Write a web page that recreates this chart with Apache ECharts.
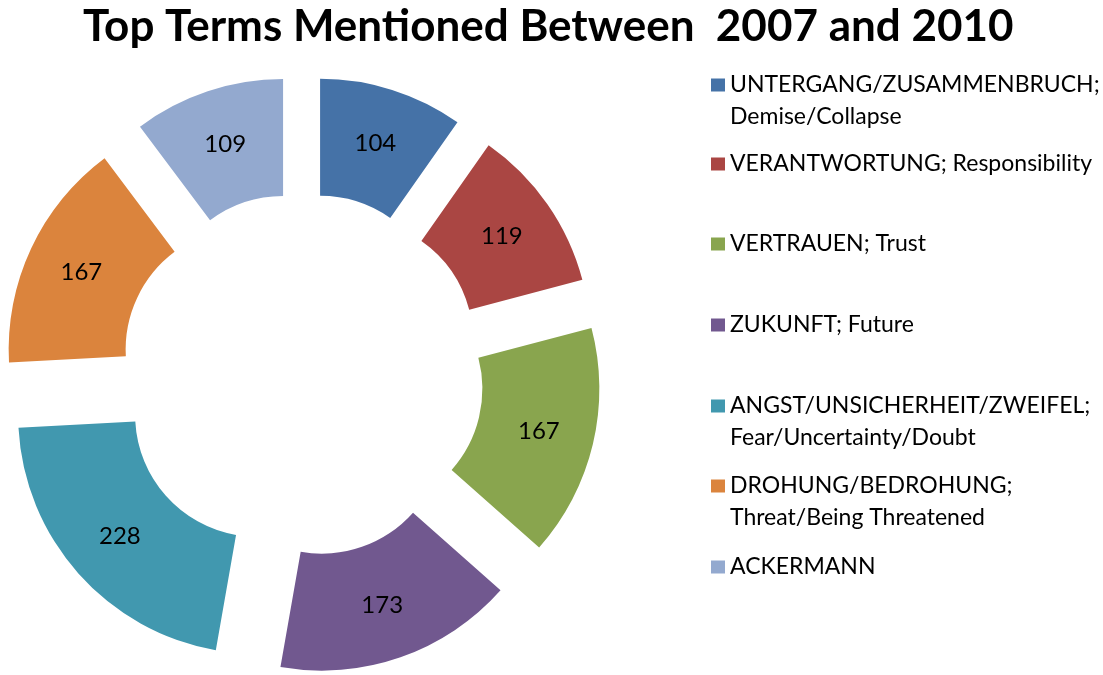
<!DOCTYPE html>
<html>
<head>
<meta charset="utf-8">
<script src="https://cdn.jsdelivr.net/npm/echarts@6/dist/echarts.min.js"></script>
<style>
    html, body { margin: 0; padding: 0; background: #fff; }
    #termsChart { width: 1103px; height: 675px; }
</style>
</head>
<body>
<div id="termsChart"></div>
<script>
var termNames = [
    'UNTERGANG/ZUSAMMENBRUCH;\nDemise/Collapse',
    'VERANTWORTUNG; Responsibility',
    'VERTRAUEN; Trust',
    'ZUKUNFT; Future',
    'ANGST/UNSICHERHEIT/ZWEIFEL;\nFear/Uncertainty/Doubt',
    'DROHUNG/BEDROHUNG;\nThreat/Being Threatened',
    'ACKERMANN'
];
var termCounts = [104, 119, 167, 173, 228, 167, 109];
var termColors = ['#4572A7', '#AA4643', '#89A54E', '#71588F', '#4198AF', '#DB843D', '#93A9CF'];

// one legend per entry so the boxes line up with the first text line
var legendCenters = [85, 164, 244, 325, 406, 486, 567];

function buildLegends() {
    var legends = [];
    termNames.forEach(function (name, i) {
        var twoLines = name.indexOf('\n') >= 0;
        legends.push({
            orient: 'vertical',
            left: 711,
            top: legendCenters[i] - (twoLines ? 48 : 16),
            padding: 0,
            itemWidth: 14,
            itemHeight: 13,
            icon: 'rect',
            selectedMode: false,
            data: [name],
            // blank first line keeps the box level with the first text line
            formatter: function (n) {
                return n.indexOf('\n') >= 0 ? ' \n' + n : n;
            },
            textStyle: {
                fontFamily: 'Lato',
                fontSize: 23,
                lineHeight: 32,
                color: '#000'
            }
        });
    });
    return legends;
}

function buildPieData() {
    var items = [];
    termNames.forEach(function (name, i) {
        items.push({
            name: name,
            value: termCounts[i],
            selected: true,
            itemStyle: { color: termColors[i] }
        });
    });
    return items;
}

var chart = echarts.init(document.getElementById('termsChart'));
chart.setOption({
    animation: false,
    title: {
        text: 'Top Terms Mentioned Between  2007 and 2010',
        left: 78,
        top: 0,
        textStyle: {
            fontFamily: 'Lato',
            fontWeight: 'bold',
            fontSize: 44,
            color: '#000'
        }
    },
    legend: buildLegends(),
    series: [{
        type: 'pie',
        center: [302, 375],
        radius: [122, 239],
        startAngle: 90,
        clockwise: true,
        selectedMode: 'multiple',
        selectedOffset: 60,
        avoidLabelOverlap: false,
        label: {
            show: true,
            position: 'inside',
            formatter: '{c}',
            fontFamily: 'Lato',
            fontSize: 24,
            color: '#000'
        },
        labelLine: { show: false },
        emphasis: { disabled: true },
        select: { itemStyle: { borderWidth: 0 } },
        itemStyle: { borderWidth: 0 },
        data: buildPieData()
    }]
});
</script>
</body>
</html>
